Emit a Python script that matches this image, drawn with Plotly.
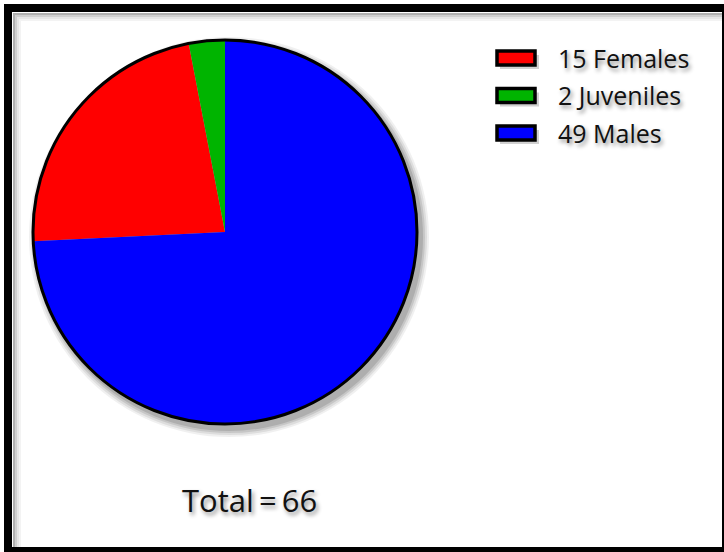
import plotly.graph_objects as go

# ---- data ----
categories = ["Females", "Juveniles", "Males"]
counts = [15, 2, 49]
colors = ["#ff0000", "#00b400", "#0000ff"]
total = sum(counts)

W, H = 724, 552
FONT = "Open Sans"
SHADOW = "2px 3px 4px rgba(0,0,0,0.45)"

# pie geometry in pixels
cx, cy, r = 225, 232, 192

def px(x):
    return x / W

def py(y):
    return 1 - y / H

fig = go.Figure()
# rotation so that Males start at 12 o'clock (clockwise order Males, Females, Juveniles)
rotation = 360 * counts[2] / total
fig.add_trace(go.Pie(
    labels=[f"{c} {n}" for c, n in zip(counts, categories)],
    values=counts,
    marker=dict(colors=colors, line=dict(width=0)),
    sort=False,
    direction="clockwise",
    rotation=rotation,
    textinfo="none",
    hoverinfo="label+percent",
    domain=dict(x=[px(cx - r), px(cx + r)], y=[py(cy + r), py(cy - r)]),
    showlegend=False,
))

shapes = []
# pie shadow (fake blur)
for d, op in [(8, 0.06), (6, 0.08), (4, 0.10), (2, 0.12)]:
    shapes.append(dict(type="circle", xref="paper", yref="paper", layer="below",
                       x0=px(cx - r + 4 - d), x1=px(cx + r + 4 + d),
                       y0=py(cy + r + 5 + d), y1=py(cy - r + 5 - d),
                       fillcolor=f"rgba(0,0,0,{op})", line=dict(width=0)))
# pie outline
shapes.append(dict(type="circle", xref="paper", yref="paper", layer="above",
                   x0=px(cx - r), x1=px(cx + r), y0=py(cy + r), y1=py(cy - r),
                   line=dict(color="black", width=3)))

# frame inner shadow
for off, col in [(14, "#b0b0b0"), (16, "#d0d0d0"), (18, "#e6e6e6"), (20, "#f3f3f3")]:
    shapes.append(dict(type="rect", xref="paper", yref="paper", layer="below",
                       x0=px(off), x1=px(W + 20), y0=py(H + 20), y1=py(off),
                       line=dict(color=col, width=2)))
# frame
shapes.append(dict(type="rect", xref="paper", yref="paper", layer="above",
                   x0=px(8), x1=px(726), y0=py(551), y1=py(8),
                   line=dict(color="black", width=8)))

annotations = []
# custom legend
lx0, lx1, ly0, dy, sh = 497, 535, 58, 37.5, 14
for i, (c, n, col) in enumerate(zip(counts, categories, colors)):
    yc = ly0 + i * dy
    shapes.append(dict(type="rect", xref="paper", yref="paper", layer="below",
                       x0=px(lx0 + 3), x1=px(lx1 + 4), y0=py(yc + sh / 2 + 4), y1=py(yc - sh / 2 + 4),
                       fillcolor="rgba(0,0,0,0.18)", line=dict(width=0)))
    shapes.append(dict(type="rect", xref="paper", yref="paper", layer="above",
                       x0=px(lx0), x1=px(lx1), y0=py(yc + sh / 2), y1=py(yc - sh / 2),
                       fillcolor=col, line=dict(color="black", width=3.5)))
    annotations.append(dict(xref="paper", yref="paper", x=px(556), y=py(yc),
                            xanchor="left", yanchor="middle", showarrow=False,
                            text=f"{c} {n}",
                            font=dict(family=FONT, size=25, color="#111", shadow=SHADOW)))

annotations.append(dict(xref="paper", yref="paper", x=px(249), y=py(500),
                        xanchor="center", yanchor="middle", showarrow=False,
                        text=f"Total\u2009=\u2009{total}",
                        font=dict(family=FONT, size=31, color="#111", shadow=SHADOW)))

fig.update_layout(
    width=W, height=H,
    margin=dict(l=0, r=0, t=0, b=0),
    paper_bgcolor="white", plot_bgcolor="white",
    showlegend=False,
    shapes=shapes,
    annotations=annotations,
)

fig.write_html("out.html")
